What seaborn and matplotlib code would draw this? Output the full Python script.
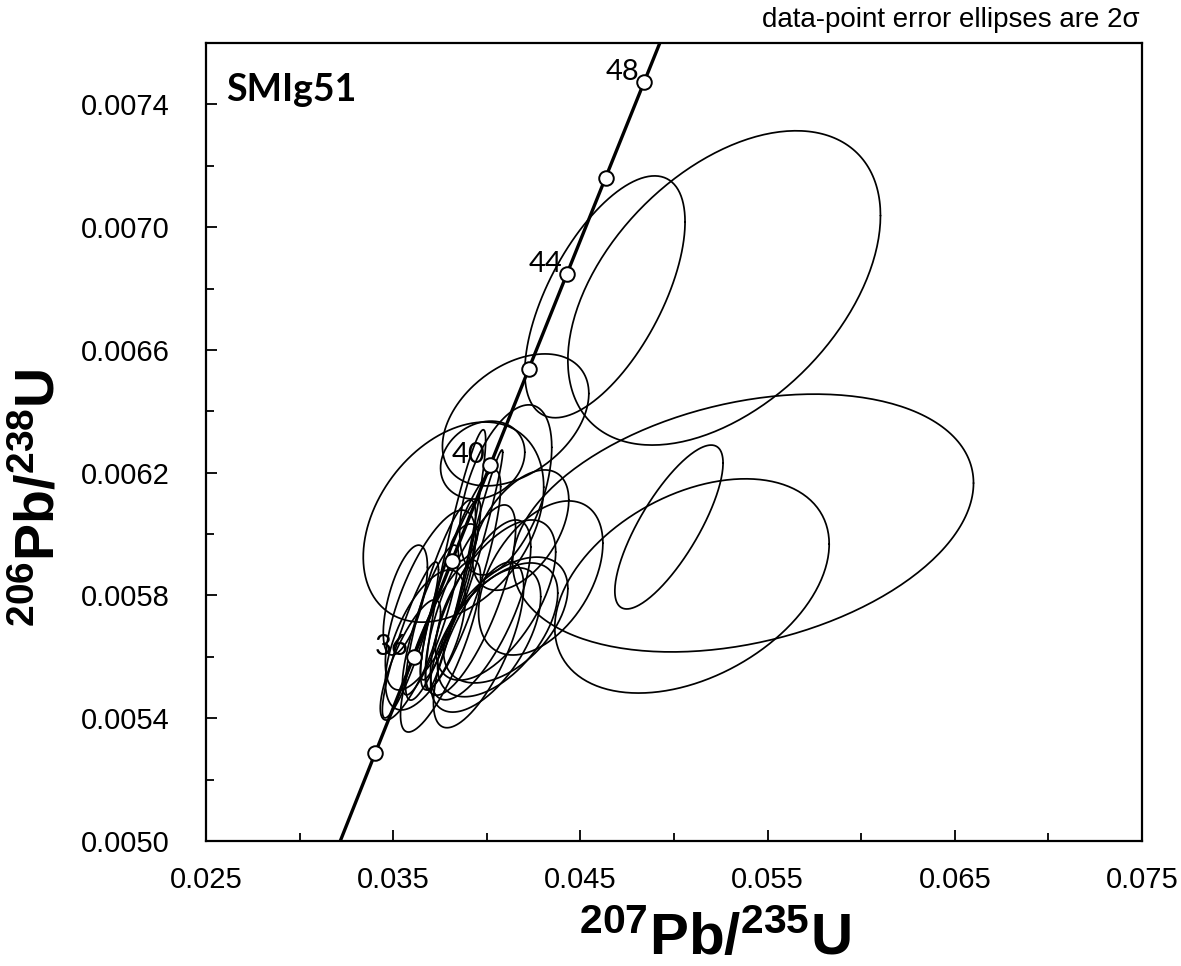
import numpy as np
import pandas as pd
import matplotlib
matplotlib.use("Agg")
import matplotlib.pyplot as plt
import seaborn as sns

# Zircon U-Pb analyses: ratio, 2-sigma half-width, error correlation
pb207_u235 = [0.05268, 0.04631, 0.05369, 0.05096, 0.04973, 0.04154, 0.03978,
              0.03822, 0.04288, 0.04101, 0.03753, 0.03806, 0.03860, 0.03699,
              0.03672, 0.03913, 0.03967, 0.04047, 0.03592, 0.03592, 0.03753,
              0.03956, 0.03994, 0.04058, 0.03876, 0.03967, 0.04101, 0.03565,
              0.04181, 0.03833, 0.03699]
pb207_u235_2s = [0.00835, 0.00428, 0.01231, 0.00733, 0.00289, 0.00391, 0.00225,
                 0.00482, 0.00332, 0.00246, 0.00187, 0.00161, 0.00214, 0.00150,
                 0.00214, 0.00241, 0.00268, 0.00321, 0.00161, 0.00150, 0.00214,
                 0.00241, 0.00294, 0.00321, 0.00075, 0.00118, 0.00332, 0.00118,
                 0.00257, 0.00161, 0.00241]
pb206_u238 = [0.006802, 0.006773, 0.006036, 0.005831, 0.006023, 0.006372, 0.006241,
              0.006039, 0.005857, 0.006144, 0.005785, 0.005818, 0.005850, 0.005720,
              0.005655, 0.005785, 0.005753, 0.005785, 0.005590, 0.005655, 0.005635,
              0.005639, 0.005655, 0.005688, 0.005971, 0.006013, 0.005720, 0.005785,
              0.006013, 0.005916, 0.005785]
pb206_u238_2s = [0.000512, 0.000394, 0.000420, 0.000349, 0.000267, 0.000215, 0.000127,
                 0.000326, 0.000251, 0.000277, 0.000326, 0.000293, 0.000358, 0.000244,
                 0.000228, 0.000310, 0.000293, 0.000261, 0.000196, 0.000254, 0.000280,
                 0.000270, 0.000235, 0.000218, 0.000062, 0.000261, 0.000205, 0.000179,
                 0.000196, 0.000424, 0.000293]
err_corr = [0.46, 0.62, 0.31, 0.39, 0.78, 0.40, 0.20, 0.35, 0.45, 0.50, 0.85, 0.90,
            0.85, 0.85, 0.60, 0.75, 0.70, 0.60, 0.80, 0.90, 0.80, 0.70, 0.60, 0.55,
            0.50, 0.97, 0.50, 0.60, 0.50, 0.92, 0.70]

# Concordia age markers (Ma)
marker_ages = [34, 36, 38, 40, 42, 44, 46, 48]
labelled_ages = [36, 40, 44, 48]

x_ticks = [0.025, 0.035, 0.045, 0.055, 0.065, 0.075]
y_ticks = [0.0050, 0.0054, 0.0058, 0.0062, 0.0066, 0.0070, 0.0074]

LAMBDA_238 = 1.55125e-10
LAMBDA_235 = 9.8485e-10


def concordia(age_ma):
    t = np.asarray(age_ma, dtype=float) * 1e6
    return np.expm1(LAMBDA_235 * t), np.expm1(LAMBDA_238 * t)


# error ellipse outlines
theta = np.linspace(0, 2 * np.pi, 240)
rows = []
for i, (x, sx, y, sy, r) in enumerate(zip(pb207_u235, pb207_u235_2s,
                                           pb206_u238, pb206_u238_2s, err_corr)):
    ex = x + sx * np.cos(theta)
    ey = y + sy * (r * np.cos(theta) + np.sqrt(1 - r * r) * np.sin(theta))
    rows.append(pd.DataFrame({"grain": i, "x": ex, "y": ey}))
ellipses = pd.concat(rows, ignore_index=True)

curve_ages = np.linspace(30, 52, 400)
cx, cy = concordia(curve_ages)
curve = pd.DataFrame({"x": cx, "y": cy})
mx, my = concordia(marker_ages)
markers = pd.DataFrame({"age": marker_ages, "x": mx, "y": my})

sns.set_style("white")
plt.rcParams["font.family"] = ["Liberation Sans", "DejaVu Sans"]
plt.rcParams["text.color"] = "black"
plt.rcParams["xtick.color"] = "black"
plt.rcParams["ytick.color"] = "black"
plt.rcParams["axes.labelcolor"] = "black"
plt.rcParams["mathtext.fontset"] = "custom"
plt.rcParams["mathtext.rm"] = "Liberation Sans"
plt.rcParams["mathtext.bf"] = "Liberation Sans:bold"

W, H = 1181, 966
fig = plt.figure(figsize=(W / 100, H / 100), dpi=100)
ax = fig.add_axes([206 / W, 1 - 841 / H, (1142 - 206) / W, (841 - 43) / H])

sns.lineplot(data=ellipses, x="x", y="y", units="grain", estimator=None, sort=False,
             color="black", linewidth=1.25, ax=ax, zorder=2)
sns.lineplot(data=curve, x="x", y="y", sort=False, color="black", linewidth=2.4,
             ax=ax, zorder=3)
sns.scatterplot(data=markers, x="x", y="y", s=110, color="white", edgecolor="black",
                linewidth=1.4, ax=ax, zorder=4)

for age, x, y in zip(marker_ages, mx, my):
    if age in labelled_ages:
        ax.annotate(str(age), (x, y), xytext=(-5, 2), textcoords="offset pixels",
                    ha="right", va="baseline", fontsize=21, color="black",
                    family=["Lato", "DejaVu Sans"])

ax.set_xlim(0.025, 0.075)
ax.set_ylim(0.0050, 0.0076)
ax.set_xticks(x_ticks)
ax.set_xticklabels([f"{v:.3f}" for v in x_ticks], fontsize=21)
ax.set_xticks([0.030, 0.040, 0.050, 0.060, 0.070], minor=True)
ax.set_yticks(y_ticks)
ax.set_yticklabels([f"{v:.4f}" for v in y_ticks], fontsize=21)
ax.set_yticks([0.0052, 0.0056, 0.0060, 0.0064, 0.0068, 0.0072], minor=True)
ax.tick_params(axis="both", which="major", direction="in", length=8, width=1.3,
               colors="black", bottom=True, left=True)
ax.tick_params(axis="both", which="minor", direction="in", length=6, width=1.3,
               colors="black", bottom=True, left=True)
ax.tick_params(axis="x", which="major", pad=18)
ax.tick_params(axis="y", which="major", pad=26)
for sp in ax.spines.values():
    sp.set_visible(True)
    sp.set_color("black")
    sp.set_linewidth(1.6)
ax.set_xlabel("")
ax.set_ylabel("")

fig.text(715 / W, 1 - 940 / H, r"$\mathbf{^{207}Pb/^{235}U}$", ha="center", va="center",
         fontsize=42)
fig.text(40 / W, 1 - 498 / H, r"$\mathbf{^{206}Pb/^{238}U}$", ha="center", va="center",
         fontsize=40, rotation=90)
fig.text(1140 / W, 1 - 27 / H, "data-point error ellipses are 2σ", ha="right",
         va="baseline", fontsize=20)
ax.text(0.022, 0.962, "SMIg51", transform=ax.transAxes, ha="left", va="top",
        fontsize=27, fontweight="bold", family=["Lato", "DejaVu Sans"])

fig.savefig("out.png", dpi=100)
